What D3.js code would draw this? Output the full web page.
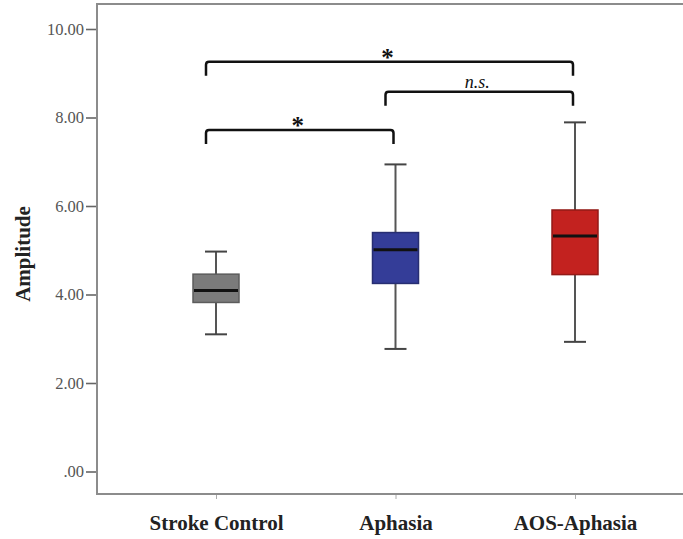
<!DOCTYPE html>
<html>
<head>
<meta charset="utf-8">
<script src="https://cdn.jsdelivr.net/npm/d3@7/dist/d3.min.js"></script>
<style>
  body { margin: 0; background: #fff; }
  svg { display: block; }
</style>
</head>
<body>
<div class="svg-container"></div>
<script>
// groups and their box statistics
let categories = ["Stroke Control", "Aphasia", "AOS-Aphasia"];
let whiskerLow  = [3.10, 2.77, 2.93];
let q1          = [3.82, 4.25, 4.45];
let median      = [4.09, 5.01, 5.32];
let q3          = [4.46, 5.40, 5.91];
let whiskerHigh = [4.97, 6.94, 7.89];
let boxColors   = ["#7b7b7b", "#343d98", "#c3221f"];

let yTicks = [0, 2, 4, 6, 8, 10];

// significance brackets: from group, to group, level (in amplitude units), label
let bracketFrom  = ["Stroke Control", "Aphasia", "Stroke Control"];
let bracketTo    = ["AOS-Aphasia", "AOS-Aphasia", "Aphasia"];
let bracketLevel = [9.26, 8.58, 7.72];
let bracketLabel = ["*", "n.s.", "*"];

let width = 683;
let height = 539;

let svg = d3.select(".svg-container")
    .append("svg")
    .attr("width", width)
    .attr("height", height);

let plotLeft = 97, plotTop = 4, plotBottom = 494;

let x = d3.scalePoint()
    .domain(categories)
    .range([216, 575]);

let y = d3.scaleLinear()
    .domain([0, 10])
    .range([471.5, 29]);

let boxWidth = 46;
let capWidth = 22;

function fmt(v)
{
    return v === 0 ? ".00" : d3.format(".2f")(v);
}

// frame
let axisColor = "#8c8c8c";
svg.append("line")
    .attr("x1", plotLeft).attr("x2", width)
    .attr("y1", plotTop).attr("y2", plotTop)
    .attr("stroke", axisColor).attr("stroke-width", 2);

// y axis
let yAxis = svg.append("g")
    .attr("transform", "translate(" + plotLeft + ",0)")
    .call(d3.axisLeft(y).tickValues(yTicks).tickFormat(fmt).tickSize(11).tickPadding(2));
yAxis.select(".domain").remove();
yAxis.selectAll(".tick line").attr("stroke", "#666").attr("stroke-width", 1.6);
yAxis.selectAll(".tick text")
    .attr("fill", "#555")
    .style("font-family", "'Liberation Serif', 'Times New Roman', serif")
    .style("font-size", "16.5px");
svg.append("line")
    .attr("x1", plotLeft).attr("x2", plotLeft)
    .attr("y1", plotTop - 1).attr("y2", plotBottom + 1)
    .attr("stroke", axisColor).attr("stroke-width", 2);

// x axis
let xAxis = svg.append("g")
    .attr("transform", "translate(0," + plotBottom + ")")
    .call(d3.axisBottom(x).tickSize(5).tickPadding(16));
xAxis.select(".domain").remove();
xAxis.selectAll(".tick line").attr("stroke", "#aaa").attr("stroke-width", 1);
xAxis.selectAll(".tick text")
    .attr("fill", "#222")
    .style("font-family", "'Liberation Serif', 'Times New Roman', serif")
    .style("font-weight", "bold")
    .style("font-size", "21px");
svg.append("line")
    .attr("x1", plotLeft - 1).attr("x2", width)
    .attr("y1", plotBottom).attr("y2", plotBottom)
    .attr("stroke", axisColor).attr("stroke-width", 2);

// y title
svg.append("text")
    .attr("transform", "translate(30,254) rotate(-90)")
    .attr("text-anchor", "middle")
    .attr("fill", "#222")
    .style("font-family", "'Liberation Serif', 'Times New Roman', serif")
    .style("font-weight", "bold")
    .style("font-size", "21px")
    .text("Amplitude");

// boxes
let groups = svg.append("g").attr("class", "boxes")
    .selectAll("g")
    .data(categories)
    .enter()
    .append("g");

groups.append("line")
    .attr("x1", d => x(d)).attr("x2", d => x(d))
    .attr("y1", (d, i) => y(whiskerHigh[i]))
    .attr("y2", (d, i) => y(whiskerLow[i]))
    .attr("stroke", "#555").attr("stroke-width", 2);

groups.selectAll(".cap")
    .data((d, i) => [{c: d, v: whiskerLow[i]}, {c: d, v: whiskerHigh[i]}])
    .enter()
    .append("line")
    .attr("class", "cap")
    .attr("x1", d => x(d.c) - capWidth / 2)
    .attr("x2", d => x(d.c) + capWidth / 2)
    .attr("y1", d => y(d.v)).attr("y2", d => y(d.v))
    .attr("stroke", "#444").attr("stroke-width", 2);

groups.append("rect")
    .attr("x", d => x(d) - boxWidth / 2)
    .attr("width", boxWidth)
    .attr("y", (d, i) => y(q3[i]))
    .attr("height", (d, i) => y(q1[i]) - y(q3[i]))
    .attr("fill", (d, i) => boxColors[i])
    .attr("stroke", (d, i) => d3.color(boxColors[i]).darker(0.8))
    .attr("stroke-width", 1.5);

groups.append("line")
    .attr("x1", d => x(d) - boxWidth / 2 + 1)
    .attr("x2", d => x(d) + boxWidth / 2 - 1)
    .attr("y1", (d, i) => y(median[i]))
    .attr("y2", (d, i) => y(median[i]))
    .attr("stroke", "#111").attr("stroke-width", 3);

// significance brackets
let drop = 14;
let brackets = svg.append("g").attr("class", "brackets")
    .selectAll("g")
    .data(bracketLevel)
    .enter()
    .append("g");

brackets.append("path")
    .attr("d", function(d, i) {
        let x1 = x(bracketFrom[i]) - 10;
        let x2 = x(bracketTo[i]) - 2;
        let yy = y(d);
        return "M" + x1 + "," + (yy + drop) +
               "L" + x1 + "," + (yy + 3) +
               "Q" + x1 + "," + yy + " " + (x1 + 3) + "," + yy +
               "L" + (x2 - 3) + "," + yy +
               "Q" + x2 + "," + yy + " " + x2 + "," + (yy + 3) +
               "L" + x2 + "," + (yy + drop);
    })
    .attr("fill", "none")
    .attr("stroke", "#111")
    .attr("stroke-width", 2.5);

brackets.append("text")
    .attr("x", (d, i) => (x(bracketFrom[i]) + x(bracketTo[i])) / 2 - 8)
    .attr("y", (d, i) => bracketLabel[i] === "*" ? y(d) + 4 : y(d) - 3.5)
    .attr("text-anchor", "middle")
    .attr("fill", "#111")
    .style("font-family", "'Liberation Serif', 'Times New Roman', serif")
    .style("font-weight", (d, i) => bracketLabel[i] === "*" ? "bold" : "normal")
    .style("font-style", (d, i) => bracketLabel[i] === "*" ? "normal" : "italic")
    .style("font-size", (d, i) => bracketLabel[i] === "*" ? "25px" : "18px")
    .text((d, i) => bracketLabel[i]);
</script>
</body>
</html>
